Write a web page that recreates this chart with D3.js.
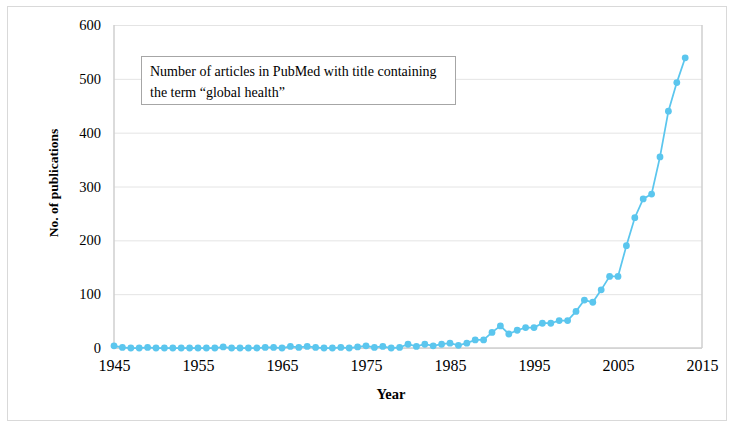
<!DOCTYPE html>
<html>
<head>
<meta charset="utf-8">
<script src="https://cdn.jsdelivr.net/npm/d3@7"></script>
<style>
  html, body { margin: 0; padding: 0; background: #fff; }
  svg { display: block; }
  svg text { font-family: "Liberation Serif", "Times New Roman", serif !important; fill: #000; }
</style>
</head>
<body>
<svg id="chart" width="733" height="426"></svg>
<script>
const years = [1945,1946,1947,1948,1949,1950,1951,1952,1953,1954,1955,1956,1957,1958,1959,1960,1961,1962,1963,1964,1965,1966,1967,1968,1969,1970,1971,1972,1973,1974,1975,1976,1977,1978,1979,1980,1981,1982,1983,1984,1985,1986,1987,1988,1989,1990,1991,1992,1993,1994,1995,1996,1997,1998,1999,2000,2001,2002,2003,2004,2005,2006,2007,2008,2009,2010,2011,2012,2013];
const publications = [4,1,0,0,1,0,0,0,0,0,0,0,0,2,0,0,0,0,1,1,0,3,1,3,1,0,0,1,0,2,4,1,3,0,1,7,3,7,4,7,9,5,9,15,15,29,41,26,33,38,38,46,46,51,51,68,89,85,108,133,133,190,242,277,286,355,440,493,539];
const xTicks = [1945,1955,1965,1975,1985,1995,2005,2015];
const yTicks = [0,100,200,300,400,500,600];
const yTitle = "No. of publications";
const xTitle = "Year";
const noteLines = ["Number of articles in PubMed with title containing", "the term \u201cglobal health\u201d"];

const FONT = "'Liberation Serif', 'Times New Roman', serif";
const svg = d3.select("#chart");
const m = {left: 114, right: 702, top: 25, bottom: 348};

svg.append("rect").attr("x", 7.5).attr("y", 6.5).attr("width", 719).attr("height", 414)
  .attr("fill", "#fff").attr("stroke", "#d9d9d9").attr("stroke-width", 1);

const x = d3.scaleLinear().domain([1945, 2015]).range([m.left, m.right]);
const y = d3.scaleLinear().domain([0, 600]).range([m.bottom, m.top]);

// gridlines + y labels
const yAxis = d3.axisLeft(y).tickValues(yTicks).tickSize(-(m.right - m.left)).tickPadding(13).tickFormat(d3.format("d"));
const gy = svg.append("g").attr("transform", `translate(${m.left},0)`).call(yAxis)
  .attr("font-family", FONT).attr("font-size", 14);
gy.select(".domain").remove();
gy.selectAll(".tick line").attr("stroke", "#e4e4e4").attr("stroke-width", 1);
gy.selectAll(".tick text").attr("fill", "#000").style("font-size", "14.5px");

// plot frame
svg.append("line").attr("x1", m.left).attr("x2", m.left).attr("y1", m.top).attr("y2", m.bottom)
  .attr("stroke", "#cfcfcf").attr("stroke-width", 1.5);
svg.append("line").attr("x1", m.right).attr("x2", m.right).attr("y1", m.top).attr("y2", m.bottom)
  .attr("stroke", "#cfcfcf").attr("stroke-width", 1.5);
svg.append("line").attr("x1", m.left).attr("x2", m.right).attr("y1", m.bottom).attr("y2", m.bottom)
  .attr("stroke", "#cfcfcf").attr("stroke-width", 1.5);

const xAxis = d3.axisBottom(x).tickValues(xTicks).tickSize(0).tickPadding(12).tickFormat(d3.format("d"));
const gx = svg.append("g").attr("transform", `translate(0,${m.bottom})`).call(xAxis)
  .attr("font-family", FONT).attr("font-size", 16);
gx.select(".domain").remove();
gx.selectAll(".tick text").attr("fill", "#000").style("font-size", "16px");

// note box
const box = svg.append("g");
box.append("rect").attr("x", 141.5).attr("y", 56.5).attr("width", 314).attr("height", 48)
  .attr("fill", "#fff").attr("stroke", "#a6a6a6").attr("stroke-width", 1);
box.selectAll("text.note").data(noteLines).join("text").attr("class", "note")
  .attr("x", 150).attr("y", (d, i) => 76 + i * 21)
  .attr("font-family", FONT).style("font-size", "14px").text(d => d);

// line + markers
const data = years.map((yr, i) => ({yr, v: publications[i]}));
const color = "#5bc6ee";
svg.append("path").datum(data)
  .attr("fill", "none").attr("stroke", color).attr("stroke-width", 1.75)
  .attr("d", d3.line().x(d => x(d.yr)).y(d => y(d.v)));
svg.selectAll("circle.pt").data(data).join("circle").attr("class", "pt")
  .attr("cx", d => x(d.yr)).attr("cy", d => y(d.v)).attr("r", 3.4).attr("fill", color);

// titles
svg.append("text").attr("transform", `translate(58,183) rotate(-90)`)
  .attr("text-anchor", "middle").attr("font-family", FONT)
  .style("font-size", "13.5px").style("font-weight", "bold").text(yTitle);
svg.append("text").attr("x", 391).attr("y", 399).attr("text-anchor", "middle").attr("font-family", FONT)
  .style("font-size", "14.5px").style("font-weight", "bold").text(xTitle);
</script>
</body>
</html>
